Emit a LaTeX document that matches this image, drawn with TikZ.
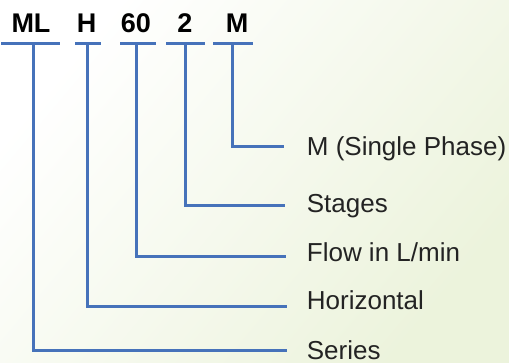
\documentclass[tikz,border=0pt]{standalone}
\usepackage{fontspec}
\setmainfont{Liberation Sans}
\definecolor{lineblue}{RGB}{70,114,186}
\definecolor{bggreen}{RGB}{236,243,220}
\definecolor{txt}{RGB}{35,35,35}
\begin{document}
\begin{tikzpicture}[x=1pt,y=-1pt,
  code/.style={anchor=base,inner sep=0pt,font=\fontsize{27}{30}\selectfont\bfseries,text=black},
  lbl/.style={anchor=base west,inner sep=0pt,font=\fontsize{26}{28}\selectfont,text=txt},
  bar/.style={draw=lineblue,line width=3pt},
  branch/.style={draw=lineblue,line width=3pt,line join=miter}]
\useasboundingbox (0,0) rectangle (509,362);
\shade[top color=white,bottom color=bggreen,shading angle=50] (0,0) rectangle (509,362);
% top code letters
\node[code] (ml) at (31,32.3) {ML};
\node[code] (h) at (86.5,32.3) {H};
\node[code] (sixty) at (136,32.3) {60};
\node[code] (two) at (185,32.3) {2};
\node[code] (m) at (237,32.3) {M};
% bars
\draw[bar] (1,43.3) -- (60,43.3);
\draw[bar] (75,43.3) -- (100.7,43.3);
\draw[bar] (120,43.3) -- (156,43.3);
\draw[bar] (166,43.3) -- (205,43.3);
\draw[bar] (213,43.3) -- (252.7,43.3);
\coordinate (tml) at (33.3,43.3);
\coordinate (th) at (87.3,43.3);
\coordinate (tsixty) at (136,43.3);
\coordinate (ttwo) at (185.3,43.3);
\coordinate (tm) at (232.3,43.3);
% labels
\node[lbl] (lm) at (306.7,155) {M (Single Phase)};
\node[lbl] (lst) at (306.7,212) {Stages};
\node[lbl] (lfl) at (306.7,261.5) {Flow in L/min};
\node[lbl] (lho) at (306.7,309) {Horizontal};
\node[lbl] (lse) at (306.7,359.5) {Series};
% line ends
\coordinate (em) at (284,146);
\coordinate (est) at (285,205);
\coordinate (efl) at (286,256.7);
\coordinate (eho) at (287,306);
\coordinate (ese) at (287,350);
% branches
\draw[branch] (tm) |- (em);
\draw[branch] (ttwo) |- (est);
\draw[branch] (tsixty) |- (efl);
\draw[branch] (th) |- (eho);
\draw[branch] (tml) |- (ese);
\end{tikzpicture}
\end{document}
